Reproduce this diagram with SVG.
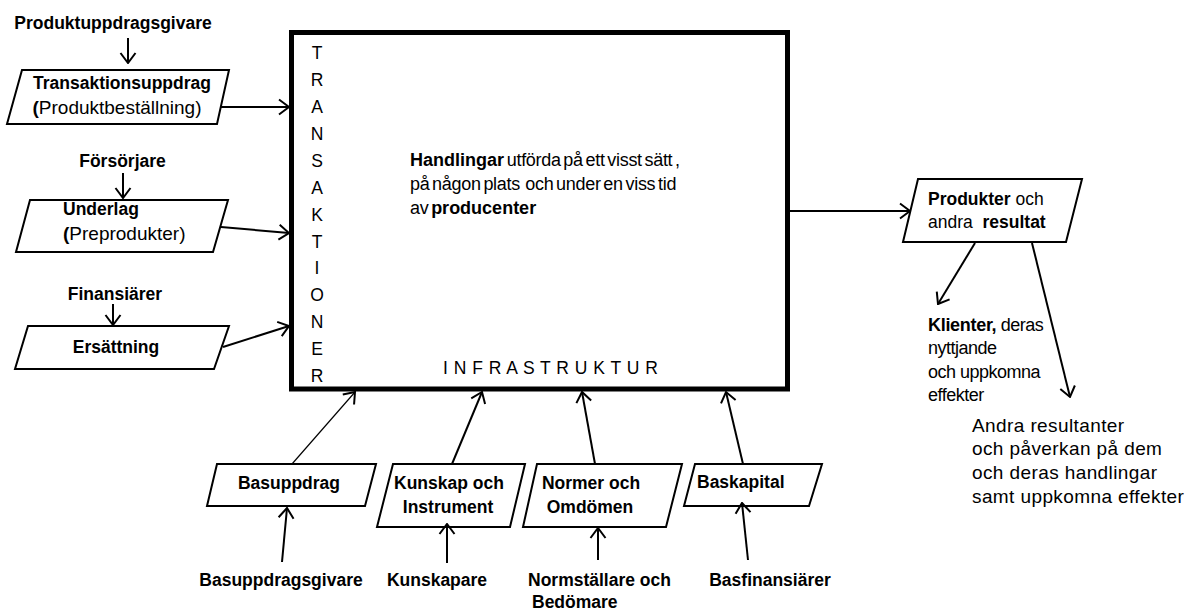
<svg xmlns="http://www.w3.org/2000/svg" width="1199" height="612" viewBox="0 0 1199 612">
<style>
  text { font-family: "Liberation Sans", Arial, sans-serif; font-size: 17.5px; fill: #000; }
  .b { font-weight: bold; }
  .c { text-anchor: middle; }
  .reg19 { font-size: 19px; }
  .mid { font-size: 18px; word-spacing: -2px; letter-spacing: -0.3px; }
  .mid .b { word-spacing: 0; letter-spacing: 0; }
  .kl { font-size: 18px; letter-spacing: -0.5px; }
  .kl .b { letter-spacing: -0.3px; }
  .ar { font-size: 19px; letter-spacing: 0.4px; }
  .para { fill: #fff; stroke: #000; stroke-width: 2; stroke-linejoin: miter; }
  .main { fill: #fff; stroke: #000; stroke-width: 5; }
  .con { fill: none; stroke: #000; stroke-width: 2; marker-end: url(#arr); }
  .thin { stroke-width: 1.2; }
</style>
<defs>
  <marker id="arr" viewBox="0 0 12 18" refX="11" refY="9" markerWidth="12" markerHeight="18" markerUnits="userSpaceOnUse" orient="auto">
    <path d="M1,1.5 L11,9 L1,16.5" fill="none" stroke="#000" stroke-width="2"/>
  </marker>
</defs>
<rect width="1199" height="612" fill="#fff"/>

<g id="main-box">
  <rect class="main" x="291.5" y="32.5" width="496" height="356.5"/>
  <g id="transaktioner">
    <text class="c" x="317" y="59">T</text>
    <text class="c" x="317" y="86">R</text>
    <text class="c" x="317" y="113">A</text>
    <text class="c" x="317" y="140">N</text>
    <text class="c" x="317" y="167">S</text>
    <text class="c" x="317" y="194">A</text>
    <text class="c" x="317" y="221">K</text>
    <text class="c" x="317" y="248">T</text>
    <text class="c" x="317" y="274">I</text>
    <text class="c" x="317" y="301">O</text>
    <text class="c" x="317" y="328">N</text>
    <text class="c" x="317" y="355">E</text>
    <text class="c" x="317" y="382">R</text>
  </g>
  <text class="mid" x="410" y="166"><tspan class="b">Handlingar</tspan> utförda på ett visst sätt ,</text>
  <text class="mid" x="410" y="190" xml:space="preserve">på någon plats  och under en viss tid</text>
  <text class="mid" x="410" y="214">av <tspan class="b">producenter</tspan></text>
  <text x="443" y="374" style="letter-spacing:0.5px" xml:space="preserve">I N F R A S T R U K T U R</text>
</g>

<g id="produktuppdragsgivare"><text class="b c" x="113" y="29">Produktuppdragsgivare</text></g>
<g id="transaktionsuppdrag">
  <polygon class="para" points="22,70 229,70 217,124 7,124"/>
  <text class="b c" x="122" y="89">Transaktionsuppdrag</text>
  <text class="c reg19" x="117" y="114"><tspan class="b">(</tspan>Produktbeställning)</text>
</g>
<g id="forsorjare"><text class="b c" x="122.5" y="167">Försörjare</text></g>
<g id="underlag">
  <polygon class="para" points="30,200 228,200 213,252 16,252"/>
  <text class="b" x="63" y="215">Underlag</text>
  <text class="reg19" x="63" y="240"><tspan class="b">(</tspan>Preprodukter)</text>
</g>
<g id="finansiarer"><text class="b c" x="115" y="300">Finansiärer</text></g>
<g id="ersattning">
  <polygon class="para" points="28,326 229,326 214,369 15,369"/>
  <text class="b c" x="116" y="353">Ersättning</text>
</g>

<g id="produkter">
  <polygon class="para" points="918,179 1082,179 1066,242 903,242"/>
  <text x="928" y="205"><tspan class="b">Produkter</tspan> och</text>
  <text x="928" y="228" xml:space="preserve">andra  <tspan class="b">resultat</tspan></text>
</g>
<g id="klienter">
  <text class="kl" x="928" y="331"><tspan class="b">Klienter,</tspan> deras</text>
  <text class="kl" x="928" y="354">nyttjande</text>
  <text class="kl" x="928" y="378">och uppkomna</text>
  <text class="kl" x="928" y="401">effekter</text>
</g>
<g id="andra-resultanter">
  <text class="ar" x="972" y="432">Andra resultanter</text>
  <text class="ar" x="972" y="455">och påverkan på dem</text>
  <text class="ar" x="972" y="479">och deras handlingar</text>
  <text class="ar" x="972" y="503">samt uppkomna effekter</text>
</g>

<g id="basuppdrag">
  <polygon class="para" points="217,464 376,464 365,506 207,506"/>
  <text class="b c" x="289" y="489">Basuppdrag</text>
</g>
<g id="basuppdragsgivare"><text class="b c" x="281" y="586">Basuppdragsgivare</text></g>
<g id="kunskap">
  <polygon class="para" points="393,464 525,464 510,527 377,527"/>
  <text class="b c" x="449" y="489">Kunskap och</text>
  <text class="b c" x="448" y="513">Instrument</text>
</g>
<g id="kunskapare"><text class="b c" x="437" y="586">Kunskapare</text></g>
<g id="normer">
  <polygon class="para" points="537,464 682,464 666,527 523,527"/>
  <text class="b c" x="591" y="489">Normer och</text>
  <text class="b c" x="590" y="513">Omdömen</text>
</g>
<g id="normstallare">
  <text class="b" x="528" y="586">Normställare och</text>
  <text class="b" x="532" y="608">Bedömare</text>
</g>
<g id="baskapital">
  <polygon class="para" points="695,464 822,464 809,506 684,506"/>
  <text class="b" x="697" y="488">Baskapital</text>
</g>
<g id="basfinansiarer"><text class="b c" x="770" y="586">Basfinansiärer</text></g>

<g id="connectors">
  <line class="con" x1="128" y1="38" x2="128" y2="63"/>
  <line class="con" x1="220" y1="107" x2="289" y2="107"/>
  <line class="con" x1="123" y1="173" x2="123" y2="198"/>
  <line class="con" x1="221" y1="227" x2="289" y2="233"/>
  <line class="con" x1="113" y1="304" x2="113" y2="325"/>
  <line class="con" x1="223" y1="347" x2="289" y2="326"/>
  <line class="con" x1="790" y1="211" x2="910" y2="211"/>
  <line class="con" x1="975" y1="243" x2="938" y2="304"/>
  <line class="con" x1="1032" y1="243" x2="1070" y2="397"/>
  <line class="con thin" x1="292" y1="464" x2="355" y2="392"/>
  <line class="con" x1="282" y1="562" x2="287" y2="508"/>
  <line class="con" x1="452" y1="464" x2="482" y2="392"/>
  <line class="con" x1="447" y1="563" x2="447" y2="524"/>
  <line class="con" x1="595" y1="464" x2="582" y2="392"/>
  <line class="con" x1="598" y1="560" x2="598" y2="528"/>
  <line class="con" x1="743" y1="464" x2="726" y2="392"/>
  <line class="con" x1="748" y1="560" x2="742" y2="503"/>
</g>
</svg>
